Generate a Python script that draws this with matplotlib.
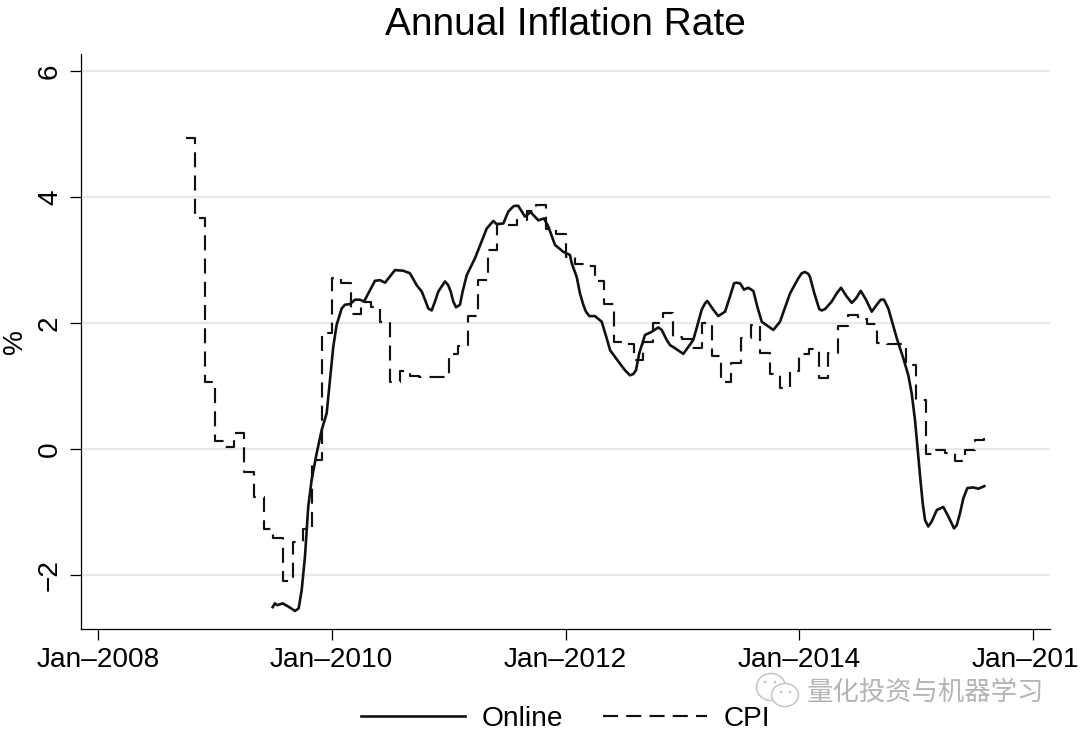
import numpy as np
import matplotlib
matplotlib.use("Agg")
import matplotlib.pyplot as plt
from matplotlib.patches import Ellipse, Circle
from matplotlib.lines import Line2D

plt.rcParams['font.family'] = ['Liberation Sans', 'DejaVu Sans']

TITLE = "Annual Inflation Rate"
YLABEL = "%"
X_TICKS = [2008, 2010, 2012, 2014, 2016]
X_LABELS = ["Jan\u20132008", "Jan\u20132010", "Jan\u20132012", "Jan\u20132014", "Jan\u20132016"]
Y_TICKS = [-2, 0, 2, 4, 6]
Y_LABELS = ["\u22122", "0", "2", "4", "6"]
WATERMARK = "量化投资与机器学习"

cpi_2008 = [4.94, 3.67, 1.06]
cpi_2009 = [0.12, 0.03, 0.25, -0.37, -0.76, -1.27, -1.41, -2.10, -1.48, -1.27, -0.17, 1.84]
cpi_2010 = [2.71, 2.63, 2.15, 2.33, 2.25, 2.02, 1.06, 1.24, 1.16, 1.15, 1.14, 1.14]
cpi_2011 = [1.51, 1.64, 2.11, 2.68, 3.16, 3.57, 3.56, 3.63, 3.77, 3.87, 3.50, 3.41]
cpi_2012 = [3.05, 2.94, 2.90, 2.67, 2.30, 1.70, 1.67, 1.41, 1.70, 2.00, 2.16, 1.77]
cpi_2013 = [1.74, 1.60, 2.00, 1.48, 1.06, 1.37, 1.76, 1.97, 1.52, 1.19, 0.97, 1.24]
cpi_2014 = [1.51, 1.59, 1.13, 1.52, 1.95, 2.13, 2.07, 1.99, 1.69, 1.66, 1.66, 1.33]
cpi_2015 = [0.77, -0.08, -0.02, -0.07, -0.19, -0.02, 0.14, 0.17]
cpi_values = cpi_2008 + cpi_2009 + cpi_2010 + cpi_2011 + cpi_2012 + cpi_2013 + cpi_2014 + cpi_2015
cpi_years = 2008.75 + np.arange(len(cpi_values)) / 12

online_offset = [
    1.495, 1.514, 1.534, 1.580, 1.628, 1.686, 1.717, 1.743, 1.771, 1.799, 1.828, 1.871,
    1.914, 1.957, 1.985, 2.013, 2.042, 2.085, 2.113, 2.156, 2.199, 2.242, 2.276, 2.327,
    2.370, 2.413, 2.456, 2.541, 2.612, 2.669, 2.727, 2.770, 2.826, 2.855, 2.912, 2.969,
    3.018, 3.063, 3.097, 3.155, 3.226, 3.326, 3.382, 3.411, 3.468, 3.511, 3.568, 3.596,
    3.653, 3.702, 3.767, 3.816, 3.853, 3.910, 3.981, 4.038, 4.096, 4.152, 4.204, 4.252,
    4.310, 4.381, 4.452, 4.552, 4.603, 4.680, 4.737, 4.794, 4.866, 4.937, 5.008, 5.093,
    5.165, 5.213, 5.265, 5.307, 5.365, 5.442, 5.493, 5.527, 5.564, 5.607, 5.679, 5.778,
    5.835, 5.921, 5.992, 6.049, 6.092, 6.171, 6.220, 6.277, 6.357, 6.449, 6.526, 6.620,
    6.697, 6.762, 6.834, 6.933, 6.990, 7.039, 7.076, 7.104, 7.176, 7.232, 7.324, 7.375,
    7.438, 7.489, 7.532, 7.583,
]
online_values = [
    -2.51, -2.45, -2.48, -2.45, -2.50, -2.57, -2.53, -2.24, -1.71, -0.92, -0.49, -0.07,
    0.30, 0.57, 1.10, 1.62, 1.97, 2.23, 2.29, 2.30, 2.37, 2.37, 2.34, 2.52,
    2.67, 2.68, 2.64, 2.84, 2.83, 2.79, 2.60, 2.50, 2.23, 2.20, 2.50, 2.66,
    2.50, 2.25, 2.29, 2.76, 3.03, 3.50, 3.62, 3.57, 3.58, 3.77, 3.86, 3.86,
    3.69, 3.76, 3.63, 3.66, 3.53, 3.24, 3.13, 3.08, 2.73, 2.29, 2.11, 2.11,
    2.02, 1.57, 1.39, 1.17, 1.25, 1.81, 1.86, 1.93, 1.73, 1.60, 1.51, 1.73,
    2.21, 2.35, 2.21, 2.11, 2.18, 2.63, 2.63, 2.53, 2.56, 2.51, 2.02, 1.89,
    2.02, 2.47, 2.71, 2.81, 2.73, 2.22, 2.22, 2.34, 2.56, 2.32, 2.51, 2.18,
    2.37, 2.23, 1.76, 1.17, 0.46, -0.54, -1.13, -1.23, -0.97, -0.92, -1.26, -1.02,
    -0.62, -0.61, -0.63, -0.59,
]
# further readings taken around the bends of the online line
online_offset_more = [
    2.798, 2.883, 2.997, 3.040, 3.120, 3.553, 4.053, 4.124, 4.175, 4.352, 4.509, 4.580,
    4.631, 4.823, 4.894, 5.122, 5.193, 5.407, 5.465, 5.641, 6.021, 6.077, 6.129, 6.192,
    6.320, 6.406, 6.485, 6.571, 6.663, 6.725, 6.890, 6.962, 7.018, 7.056, 7.133, 7.275,
    7.347, 7.404,
]
online_values_more = [
    2.37, 2.34, 2.60, 2.34, 2.50, 3.85, 2.95, 2.47, 2.18, 1.76, 1.25, 1.19,
    1.52, 1.89, 1.65, 1.92, 2.31, 2.42, 2.64, 2.26, 2.79, 2.78, 2.47, 2.20,
    2.47, 2.42, 2.39, 2.37, 2.29, 2.37, 1.44, 0.88, -0.12, -0.86, -1.15, -1.07,
    -1.21, -0.78,
]
online_x = 2008 + np.array(online_offset + online_offset_more)
online_y = np.array(online_values + online_values_more)
order = np.argsort(online_x)

W, H = 1080, 739
fig = plt.figure(figsize=(W / 100, H / 100), dpi=100, facecolor="white")
ax = fig.add_axes([81 / W, 1 - 629 / H, (1050 - 81) / W, (629 - 54) / H])
ax.set_xlim(2007.855, 2016.145)
ax.set_ylim(-2.857, 6.27)

DASH = (0, (7.0, 3.8))
ax.grid(axis="y", color="#e9e9e9", lw=1.7)
ax.set_axisbelow(True)
ax.plot(online_x[order], online_y[order], color="#111111", lw=1.9, solid_joinstyle="round")
ax.step(cpi_years, cpi_values, where="post", color="#111111", lw=1.55, linestyle=DASH)

for s in ("top", "right"):
    ax.spines[s].set_visible(False)
for s in ("left", "bottom"):
    ax.spines[s].set_linewidth(0.9)

ax.set_xticks(X_TICKS, X_LABELS)
ax.set_yticks(Y_TICKS, Y_LABELS)
ax.tick_params(axis="x", length=8, width=0.9, labelsize=20.2, pad=5)
ax.tick_params(axis="y", length=8, width=0.9, labelsize=20.2, pad=5)
for lab in ax.get_yticklabels():
    lab.set_rotation(90)
    lab.set_va("center")

fig.text(565.5 / W, 1 - 25 / H, TITLE, ha="center", va="center", fontsize=28)
fig.text(15 / W, 1 - 342 / H, YLABEL, ha="center", va="center", rotation=90, fontsize=20.2)

handles = [
    Line2D([], [], color="#111111", lw=1.9),
    Line2D([], [], color="#111111", lw=1.55, linestyle=DASH),
]
fig.legend(handles, ["Online", "CPI"], ncol=2, frameon=False, fontsize=20.2,
           loc="center", bbox_to_anchor=(565.5 / W, 1 - 719 / H),
           handlelength=3.7, handletextpad=0.58, columnspacing=1.45)

# watermark in pixel coordinates
ov = fig.add_axes([0, 0, 1, 1], facecolor="none")
ov.set_xlim(0, W)
ov.set_ylim(H, 0)
ov.axis("off")
ov.add_patch(Ellipse((771, 687), 29, 27, fill=False, ec="#c4c4c4", lw=1.1))
ov.add_patch(Ellipse((785, 695), 27, 23, fc="white", ec="#c4c4c4", lw=1.1))
for c in [(765, 682), (775, 682), (781, 692), (790, 692)]:
    ov.add_patch(Circle(c, 1.3, fc="#c4c4c4", ec="none"))
ov.text(925, 692, WATERMARK, ha="center", va="center", fontsize=19, color="#b4b4b4",
        family=["Noto Sans CJK SC", "DejaVu Sans"])

fig.savefig("out.png", dpi=100)
